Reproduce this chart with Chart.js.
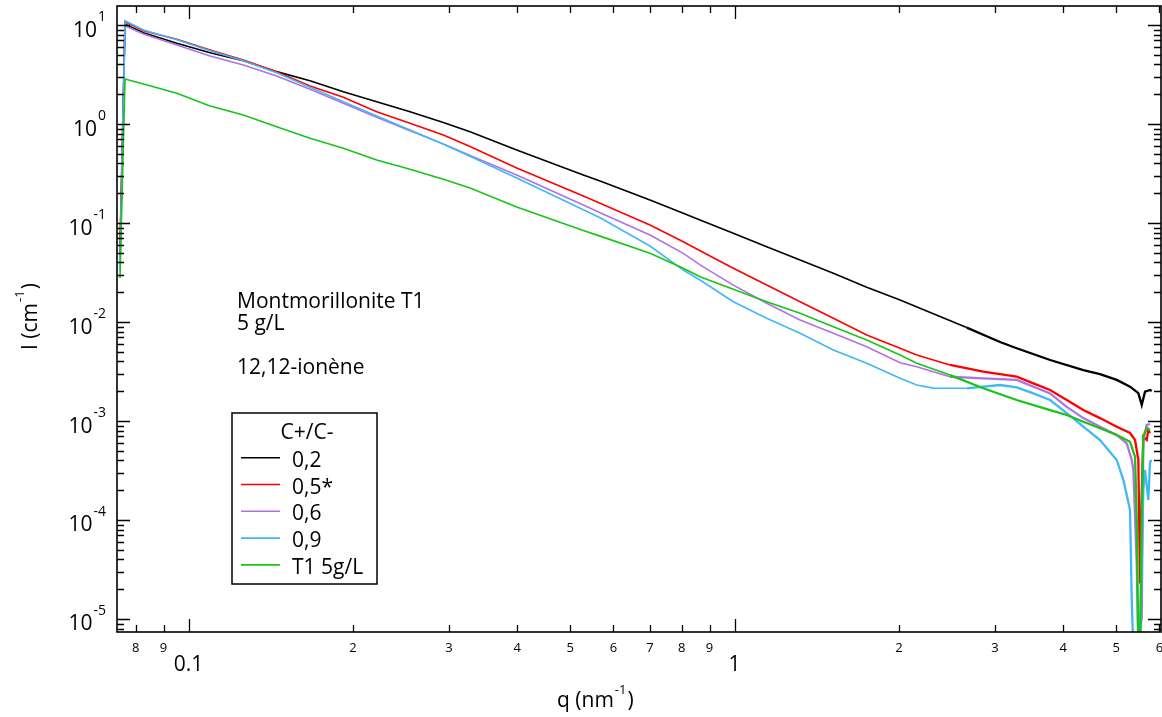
<!DOCTYPE html>
<html>
<head>
<meta charset="utf-8">
<script src="https://cdn.jsdelivr.net/npm/chart.js@4.4.0/dist/chart.umd.min.js"></script>
<style>
  html, body { margin: 0; padding: 0; background: #fff; overflow: hidden; }
  #wrap { width: 1162px; height: 717px; position: relative; }
</style>
</head>
<body>
<div id="wrap"><canvas id="saxs-chart"></canvas></div>
<script>
// SAXS curves, q in nm-1, I in cm-1
const seriesLabels = ['0,2', '0,5*', '0,6', '0,9', 'T1 5g/L'];
const seriesColors = ['#000000', '#ff0000', '#ae72e6', '#3fb8f6', '#18c418'];

const qBlack = [0.0749, 0.0765, 0.0827, 0.0952, 0.1095, 0.1260, 0.1450, 0.1669, 0.1921, 0.2211, 0.2545, 0.2929, 0.3278, 0.3991, 0.5285, 0.5672, 0.7001, 0.8057, 0.8647, 0.9949, 1.1453, 1.3184, 1.5171, 1.7465, 2.0100, 2.3127, 2.6624, 3.0640, 3.2873, 3.7843, 4.3535, 4.6707, 5.0119, 5.3014, 5.4906, 5.5694, 5.6472, 5.7675, 5.8090];
const iBlack = [0.0475, 10.16, 8.36, 6.53, 5.25, 4.36, 3.38, 2.74, 2.12, 1.68, 1.331, 1.034, 0.833, 0.546, 0.305, 0.2656, 0.1708, 0.1253, 0.1072, 0.0787, 0.0576, 0.0423, 0.0310, 0.0224, 0.01668, 0.0121, 0.00878, 0.00628, 0.00543, 0.00413, 0.00327, 0.00298, 0.00260, 0.00222, 0.00191, 0.00145, 0.00198, 0.00206, 0.00201];

const qRed = [0.0749, 0.0765, 0.0827, 0.0952, 0.1095, 0.1260, 0.1450, 0.1669, 0.1921, 0.2211, 0.2545, 0.2929, 0.3278, 0.3991, 0.5285, 0.5672, 0.7001, 0.8057, 0.8647, 0.9949, 1.1453, 1.3184, 1.5171, 1.7465, 2.0100, 2.1565, 2.4812, 2.8554, 3.2873, 3.5260, 3.7843, 4.0594, 4.3535, 4.6707, 5.0119, 5.3014, 5.4143, 5.4906, 5.5295, 5.5694, 5.6069, 5.6879, 5.7264, 5.7675];
const iRed = [0.060, 10.80, 8.76, 7.17, 5.59, 4.43, 3.38, 2.42, 1.861, 1.331, 1.016, 0.774, 0.592, 0.359, 0.1874, 0.158, 0.0954, 0.0647, 0.0525, 0.0349, 0.0236, 0.01603, 0.01090, 0.00739, 0.00543, 0.00464, 0.00368, 0.00315, 0.00280, 0.00240, 0.00206, 0.00163, 0.00129, 0.00107, 0.000876, 0.000757, 0.000643, 0.000404, 0.0000229, 0.000187, 0.000694, 0.000643, 0.000811, 0.000757];

const qPurple = [0.0749, 0.0765, 0.0827, 0.0952, 0.1095, 0.1260, 0.1450, 0.1669, 0.1921, 0.2211, 0.2545, 0.2929, 0.3278, 0.3991, 0.5285, 0.5672, 0.7001, 0.8057, 0.8647, 0.9949, 1.1453, 1.3184, 1.5171, 1.7465, 2.0100, 2.1565, 2.4812, 2.8554, 3.2873, 3.7843, 4.0594, 4.3535, 4.6707, 5.0119, 5.2282, 5.3397, 5.3759, 5.4536, 5.4906, 5.5694, 5.6069, 5.6879, 5.7675];
const iPurple = [0.0404, 9.84, 8.11, 6.28, 4.86, 3.94, 3.05, 2.24, 1.618, 1.169, 0.856, 0.630, 0.480, 0.305, 0.152, 0.127, 0.0756, 0.0494, 0.0377, 0.0236, 0.01545, 0.01048, 0.00769, 0.00563, 0.00388, 0.00354, 0.00280, 0.00270, 0.00260, 0.00190, 0.00139, 0.00107, 0.000876, 0.000722, 0.000595, 0.000404, 0.000320, 0.0000365, 0.000005, 0.0000105, 0.000643, 0.000911, 0.000933];

const qBlue = [0.0749, 0.0765, 0.0827, 0.0952, 0.1095, 0.1260, 0.1450, 0.1669, 0.1921, 0.2211, 0.2545, 0.2929, 0.3278, 0.3991, 0.5285, 0.5672, 0.7001, 0.8057, 0.8647, 0.9949, 1.1453, 1.3184, 1.5171, 1.7465, 2.0100, 2.1565, 2.3127, 2.6624, 3.0640, 3.2873, 3.5260, 3.7843, 4.0594, 4.3535, 4.6707, 5.0119, 5.1536, 5.2282, 5.3014, 5.3397, 5.3759, 5.4536, 5.5295, 5.6069, 5.6472, 5.7264, 5.7675, 5.8090];
const iBlue = [0.0335, 11.05, 8.90, 7.09, 5.50, 4.36, 3.30, 2.35, 1.680, 1.205, 0.870, 0.625, 0.472, 0.285, 0.136, 0.113, 0.0586, 0.0335, 0.02655, 0.01603, 0.01090, 0.00769, 0.00522, 0.00383, 0.00270, 0.00231, 0.00215, 0.00214, 0.00231, 0.00219, 0.00190, 0.00163, 0.00120, 0.000876, 0.000643, 0.000404, 0.000254, 0.000179, 0.000126, 0.0000156, 0.000005, 0.000005, 0.000005, 0.000201, 0.000320, 0.000159, 0.000385, 0.000404];

const qGreen = [0.0749, 0.0765, 0.0827, 0.0952, 0.1095, 0.1260, 0.1450, 0.1669, 0.1921, 0.2211, 0.2545, 0.2929, 0.3278, 0.3991, 0.5285, 0.5672, 0.7001, 0.8057, 0.8647, 0.9949, 1.1453, 1.3184, 1.5171, 1.7465, 2.0100, 2.1565, 2.4812, 2.8554, 3.2873, 3.7843, 4.0594, 4.3535, 4.6707, 5.0119, 5.3014, 5.4143, 5.4536, 5.4906, 5.5295, 5.5694, 5.6069, 5.6879, 5.7675];
const iGreen = [0.0278, 2.85, 2.54, 2.04, 1.52, 1.233, 0.939, 0.717, 0.568, 0.433, 0.349, 0.276, 0.2257, 0.1451, 0.084, 0.0737, 0.0494, 0.0349, 0.0287, 0.0214, 0.01603, 0.01224, 0.00896, 0.00658, 0.00464, 0.00383, 0.00291, 0.00214, 0.00163, 0.00129, 0.00115, 0.000984, 0.000844, 0.000722, 0.000618, 0.000436, 0.0001, 0.000005, 0.000005, 0.000105, 0.000694, 0.000850, 0.000811];

// axis ranges and tick labels
const qMin = 0.07396, qMax = 6.041;
const iMin = 7.39e-6, iMax = 15.56;
const yDecades = [1, 0, -1, -2, -3, -4, -5];
const xMajorLabels = [[0.1, '0.1'], [1, '1']];

const noteLines = ['Montmorillonite T1', '5 g/L', '', '12,12-ionène'];
const legendTitle = 'C+/C-';

const FONT = '"Open Sans", "Liberation Sans", sans-serif';

function toPoints(qs, is) {
    return qs.map((q, i) => ({ x: q, y: is[i] }));
}

const allSeries = [
    [qBlack, iBlack], [qRed, iRed], [qPurple, iPurple], [qBlue, iBlue], [qGreen, iGreen]
];

const datasets = allSeries.map((s, idx) => ({
    label: seriesLabels[idx],
    data: toPoints(s[0], s[1]),
    borderColor: seriesColors[idx],
    borderWidth: 1.6,
    pointRadius: 0,
    showLine: true,
    tension: 0,
    order: allSeries.length - idx, // green drawn last, on top
    segment: {
        borderWidth: ctx => (ctx.p0.parsed.x > 2.4 ? 2.3 : 1.6)
    }
}));

// draws the boxed axes (ticks inside on all four sides), labels, note text and legend
const frameAndText = {
    id: 'frameAndText',
    afterDatasetsDraw(chart) {
        const ctx = chart.ctx;
        const a = chart.chartArea;
        const xs = chart.scales.x;
        const ys = chart.scales.y;
        ctx.save();
        ctx.strokeStyle = '#000';
        ctx.fillStyle = '#000';

        // ticks
        ctx.lineWidth = 1.3;
        ctx.beginPath();
        for (let k = -2; k <= 1; k++) {
            for (let m = 1; m <= 9; m++) {
                const v = m * Math.pow(10, k);
                if (v < xs.min || v > xs.max) continue;
                const px = Math.round(xs.getPixelForValue(v)) + 0.5;
                const len = m === 1 ? 13 : 7;
                ctx.moveTo(px, a.bottom); ctx.lineTo(px, a.bottom - len);
                ctx.moveTo(px, a.top); ctx.lineTo(px, a.top + len);
            }
        }
        for (let k = -6; k <= 1; k++) {
            for (let m = 1; m <= 9; m++) {
                const v = m * Math.pow(10, k);
                if (v < ys.min || v > ys.max) continue;
                const py = Math.round(ys.getPixelForValue(v)) + 0.5;
                const len = m === 1 ? 13 : 7;
                ctx.moveTo(a.left, py); ctx.lineTo(a.left + len, py);
                ctx.moveTo(a.right, py); ctx.lineTo(a.right - len, py);
            }
        }
        ctx.stroke();

        // frame
        ctx.lineWidth = 1.6;
        ctx.strokeRect(a.left, a.top, a.right - a.left, a.bottom - a.top);

        // x tick labels
        ctx.textAlign = 'center';
        ctx.textBaseline = 'alphabetic';
        ctx.font = '13px ' + FONT;
        for (let k = -2; k <= 1; k++) {
            for (let m = 2; m <= 9; m++) {
                const v = m * Math.pow(10, k);
                if (v < xs.min || v > xs.max * 1.001) continue;
                ctx.fillText(String(m), xs.getPixelForValue(v), 652);
            }
        }
        ctx.font = '21px ' + FONT;
        xMajorLabels.forEach(([v, txt]) => {
            ctx.fillText(txt, xs.getPixelForValue(v), 671);
        });

        // y tick labels: 10 with superscript exponent, right aligned
        yDecades.forEach(e => {
            const py = ys.getPixelForValue(Math.pow(10, e));
            const expTxt = String(e);
            ctx.font = '14px ' + FONT;
            const wExp = ctx.measureText(expTxt).width;
            ctx.textAlign = 'left';
            const right = 106;
            ctx.fillText(expTxt, right - wExp, py - 4);
            ctx.font = '21px ' + FONT;
            ctx.textAlign = 'right';
            ctx.fillText('10', right - wExp - 1, py + 11.5);
        });

        // x axis title
        ctx.textAlign = 'left';
        ctx.font = '21px ' + FONT;
        let tx = 557;
        ctx.fillText('q (nm', tx, 707);
        tx += ctx.measureText('q (nm').width + 1;
        ctx.font = '13px ' + FONT;
        ctx.fillText('-1', tx, 694);
        tx += ctx.measureText('-1').width + 1;
        ctx.font = '21px ' + FONT;
        ctx.fillText(')', tx, 707);

        // y axis title (rotated)
        ctx.save();
        ctx.translate(37, 350);
        ctx.rotate(-Math.PI / 2);
        let ty = 0;
        ctx.font = '21px ' + FONT;
        ctx.fillText('I (cm', ty, 0);
        ty += ctx.measureText('I (cm').width + 1;
        ctx.font = '13px ' + FONT;
        ctx.fillText('-1', ty, -13);
        ty += ctx.measureText('-1').width + 1;
        ctx.font = '21px ' + FONT;
        ctx.fillText(')', ty, 0);
        ctx.restore();

        // note text
        ctx.font = '21px ' + FONT;
        ctx.textAlign = 'left';
        noteLines.forEach((line, i) => {
            if (line) ctx.fillText(line, 237, 308 + i * 22);
        });

        // legend box
        ctx.lineWidth = 1.5;
        ctx.strokeRect(232, 413, 145, 171);
        ctx.textAlign = 'center';
        ctx.fillText(legendTitle, 307, 439);
        ctx.textAlign = 'left';
        seriesLabels.forEach((lab, i) => {
            const ly = 457.7 + i * 26.8;
            ctx.strokeStyle = seriesColors[i];
            ctx.lineWidth = 1.6;
            ctx.beginPath();
            ctx.moveTo(241, ly);
            ctx.lineTo(280, ly);
            ctx.stroke();
            ctx.fillStyle = '#000';
            ctx.fillText(lab, 292, ly + 9);
        });
        ctx.restore();
    }
};

const chartContext = document.getElementById('saxs-chart').getContext('2d');
const saxsChart = new Chart(chartContext, {
    type: 'scatter',
    data: { datasets: datasets },
    options: {
        responsive: true,
        maintainAspectRatio: false,
        animation: false,
        layout: { padding: { left: 117, top: 6, right: 1, bottom: 85 } },
        plugins: {
            legend: { display: false },
            tooltip: { enabled: false }
        },
        scales: {
            x: { type: 'logarithmic', min: qMin, max: qMax, display: false },
            y: { type: 'logarithmic', min: iMin, max: iMax, display: false }
        }
    },
    plugins: [frameAndText]
});
</script>
</body>
</html>
